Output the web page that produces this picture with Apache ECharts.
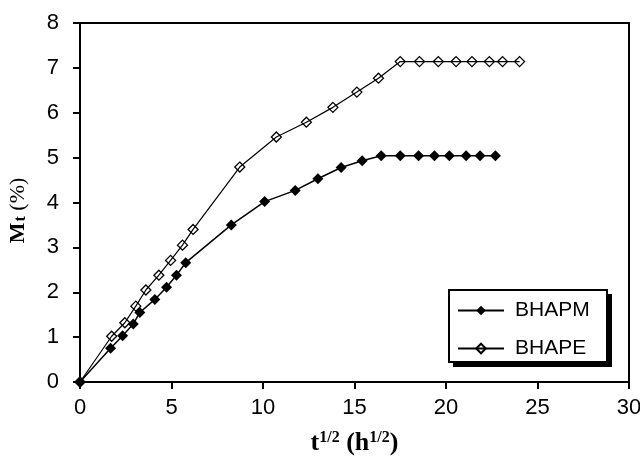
<!DOCTYPE html>
<html>
<head>
<meta charset="utf-8">
<script src="https://cdn.jsdelivr.net/npm/echarts@6/dist/echarts.min.js"></script>
<style>
  html, body { margin: 0; padding: 0; background: #fff; }
</style>
</head>
<body>
<div id="chart" style="width: 640px; height: 462px"></div>
<script>
// t^1/2 values and Mt (%)
const bhapmX = [0, 1.67, 2.33, 2.91, 3.27, 4.09, 4.73, 5.27, 5.78, 8.27, 10.09, 11.76, 13.0, 14.27, 15.42, 16.46, 17.5, 18.5, 19.37, 20.18, 21.1, 21.86, 22.7]
const bhapmY = [0, 0.75, 1.03, 1.29, 1.55, 1.84, 2.11, 2.38, 2.66, 3.5, 4.02, 4.27, 4.53, 4.78, 4.93, 5.04, 5.04, 5.04, 5.04, 5.04, 5.04, 5.04, 5.04]
const bhapeX = [0, 1.73, 2.45, 3.05, 3.6, 4.31, 4.95, 5.6, 6.18, 8.73, 10.73, 12.37, 13.82, 15.13, 16.31, 17.5, 18.55, 19.58, 20.55, 21.42, 22.37, 23.09, 24.02]
const bhapeY = [0, 1.02, 1.32, 1.69, 2.05, 2.38, 2.71, 3.05, 3.4, 4.79, 5.46, 5.79, 6.12, 6.46, 6.77, 7.14, 7.14, 7.14, 7.14, 7.14, 7.14, 7.14, 7.14]
const seriesNames = ['BHAPM', 'BHAPE']

const pairs = (xs, ys) => xs.map((x, i) => [x, ys[i]])

const chart = echarts.init(document.getElementById('chart'))
const tickFont = '"Liberation Sans", Arial, sans-serif'
const serif = '"Liberation Serif", "Times New Roman", serif'

const axisCommon = {
  axisLine: { lineStyle: { color: '#000', width: 2 } },
  axisTick: { inside: false, length: 7, lineStyle: { color: '#000', width: 2 } },
  splitLine: { show: false },
  nameLocation: 'middle'
}

const option = {
  animation: false,
  backgroundColor: '#fff',
  grid: {
    left: 80,
    right: 11,
    top: 23,
    bottom: 80,
    outerBoundsMode: 'none',
    show: true,
    borderColor: '#000',
    borderWidth: 2
  },
  // legend frame with its drop shadow
  graphic: [
    { type: 'rect', left: 453, top: 294, z: 5, shape: { width: 159, height: 73 }, style: { fill: '#000' } },
    { type: 'rect', left: 448, top: 289, z: 6, shape: { width: 158, height: 72 }, style: { fill: '#fff', stroke: '#000', lineWidth: 2 } }
  ],
  legend: {
    orient: 'vertical',
    left: 448,
    top: 290,
    z: 10,
    padding: [10, 12, 4, 9],
    itemGap: 17,
    itemWidth: 46,
    itemHeight: 12,
    textStyle: {
      fontFamily: '"Liberation Sans", Arial, sans-serif',
      fontSize: 21,
      color: '#000',
      padding: [0, 0, 0, 6]
    },
    data: seriesNames
  },
  xAxis: Object.assign({}, axisCommon, {
    type: 'value',
    min: 0,
    max: 30,
    interval: 5,
    axisLabel: { margin: 15, fontFamily: tickFont, fontSize: 22, color: '#000' },
    name: '{t|t}{u|1/2}{t| (h}{u|1/2}{t|)}',
    nameGap: 48,
    nameTextStyle: {
      rich: {
        t: { fontFamily: serif, fontWeight: 'bold', fontSize: 26, lineHeight: 26, verticalAlign: 'bottom', color: '#000' },
        u: { fontFamily: serif, fontWeight: 'bold', fontSize: 16, lineHeight: 16, verticalAlign: 'top', padding: [0, 0, 16, 0], color: '#000' }
      }
    }
  }),
  yAxis: Object.assign({}, axisCommon, {
    type: 'value',
    min: 0,
    max: 8,
    interval: 1,
    axisLabel: { margin: 21, fontFamily: tickFont, fontSize: 22, color: '#000' },
    name: '{m|M}{s|t}{p| (%)}',
    nameGap: 51,
    nameRotate: 90,
    nameTextStyle: {
      padding: [0, 16, 0, 0],
      rich: {
        m: { fontFamily: serif, fontWeight: 'bold', fontSize: 22, lineHeight: 22, verticalAlign: 'top', color: '#000' },
        s: { fontFamily: serif, fontWeight: 'bold', fontSize: 16, lineHeight: 15, verticalAlign: 'bottom', padding: [10, 0, 0, 1], color: '#000' },
        p: { fontFamily: serif, fontSize: 22, lineHeight: 22, verticalAlign: 'top', color: '#000' }
      }
    }
  }),
  series: [
    {
      name: seriesNames[0],
      type: 'line',
      data: pairs(bhapmX, bhapmY),
      symbol: 'diamond',
      symbolSize: 11,
      z: 3,
      lineStyle: { color: '#000', width: 1.5 },
      itemStyle: { color: '#000' }
    },
    {
      name: seriesNames[1],
      type: 'line',
      data: pairs(bhapeX, bhapeY),
      symbol: 'diamond',
      symbolSize: 10,
      z: 3,
      lineStyle: { color: '#000', width: 1.2 },
      itemStyle: { color: 'rgba(255,255,255,0)', borderColor: '#000', borderWidth: 1.3 }
    }
  ]
}

chart.setOption(option)
window.onresize = () => {
  chart.resize()
}
</script>
</body>
</html>
